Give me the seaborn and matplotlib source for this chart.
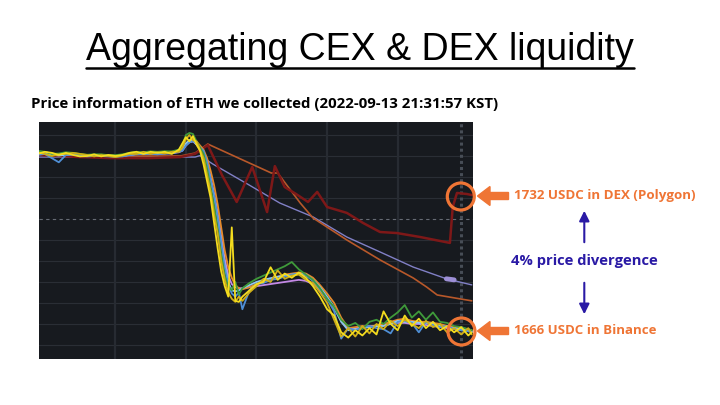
import matplotlib
matplotlib.use("Agg")
import matplotlib.pyplot as plt
import seaborn as sns
import pandas as pd
from matplotlib.patches import Circle, FancyArrow, FancyArrowPatch
from matplotlib.lines import Line2D

sns.set_theme(style="dark")
plt.rcParams['font.family'] = ['Open Sans', 'DejaVu Sans']

# ---------------- texts ----------------
title = "Aggregating CEX & DEX liquidity"
subtitle = "Price information of ETH we collected (2022-09-13 21:31:57 KST)"
dex_label = "1732 USDC in DEX (Polygon)"
cex_label = "1666 USDC in Binance"
div_label = "4% price divergence"

# ---------------- data (time in minutes, price in USDC) ----------------
cex_t = [-1, 0, 1, 2, 3, 4, 5, 6, 7, 8, 9, 10, 11, 12, 13, 14, 15, 16, 17, 18, 19,
         19.5, 20, 20.5, 21, 21.5, 22, 22.5, 23, 23.5, 24, 24.5, 25, 25.5, 26, 26.5, 27, 27.5, 28,
         29, 30, 31, 32, 33, 34, 35, 36, 37, 38, 39, 40, 41, 42, 43, 44, 45, 46, 47, 48, 49, 50,
         51, 52, 53, 54, 55, 56, 57, 58, 59, 60, 60.5]

cex_yellow = [1751.0, 1752.0, 1751.5, 1750.5, 1751.5, 1750.5, 1749.8, 1750.0, 1750.8, 1749.8, 1750.5,
              1750.0, 1750.5, 1751.5, 1752.0, 1751.0, 1752.0, 1751.5, 1752.0, 1751.0, 1753.0,
              1756.0, 1759.0, 1757.0, 1759.5, 1755.5, 1752.5, 1746.0, 1738.0, 1730.0, 1718.0, 1706.0,
              1695.0, 1688.0, 1683.0, 1716.0, 1681.0, 1680.5, 1683.0,
              1686.0, 1689.0, 1690.0, 1697.0, 1691.0, 1694.0, 1692.0, 1694.5, 1692.0, 1688.0, 1683.0,
              1677.0, 1674.0, 1666.0, 1663.5, 1667.0, 1664.5, 1668.0, 1665.0, 1676.0, 1670.0, 1667.0,
              1674.0, 1669.0, 1672.5, 1668.0, 1671.0, 1667.0, 1669.0, 1666.0, 1668.5, 1664.5, 1666.0]

cex_gold = [1751.8, 1751.0, 1750.0, 1750.8, 1751.0, 1751.5, 1751.0, 1750.5, 1749.8, 1750.5, 1750.0,
            1749.5, 1750.2, 1751.0, 1751.0, 1752.0, 1751.0, 1751.8, 1751.2, 1752.0, 1752.0,
            1754.0, 1758.0, 1760.0, 1757.5, 1757.0, 1753.0, 1749.0, 1741.0, 1733.0, 1722.0, 1713.0,
            1700.0, 1691.0, 1685.0, 1682.0, 1680.5, 1683.0, 1681.0,
            1685.0, 1688.0, 1691.5, 1690.0, 1695.5, 1691.5, 1693.0, 1693.5, 1691.0, 1689.5, 1685.0,
            1680.0, 1672.0, 1664.0, 1668.0, 1664.0, 1669.0, 1665.5, 1670.0, 1667.5, 1671.5, 1669.0,
            1672.0, 1670.0, 1668.0, 1671.5, 1668.5, 1670.0, 1666.0, 1668.0, 1665.0, 1668.0, 1665.0]

cex_green = [1752.5, 1752.0, 1751.0, 1751.2, 1751.8, 1751.5, 1751.0, 1750.6, 1750.8, 1750.8, 1750.4,
             1750.4, 1750.8, 1751.5, 1752.0, 1751.8, 1752.2, 1752.0, 1752.3, 1752.2, 1753.0,
             1755.0, 1760.0, 1761.0, 1760.5, 1757.0, 1754.0, 1751.0, 1744.0, 1735.0, 1726.0, 1715.0,
             1703.0, 1693.0, 1688.0, 1686.0, 1690.0, 1684.0, 1687.0,
             1689.5, 1691.5, 1693.0, 1694.5, 1696.0, 1697.5, 1699.5, 1696.0, 1693.5, 1691.0, 1687.0,
             1682.0, 1678.0, 1672.0, 1669.0, 1670.5, 1667.5, 1671.0, 1672.0, 1670.0, 1673.0, 1675.5,
             1679.0, 1673.0, 1676.0, 1672.0, 1675.5, 1671.0, 1670.5, 1669.0, 1668.5, 1667.5, 1667.0]

cex_blue = [1750.5, 1751.0, 1749.0, 1747.0, 1750.5, 1750.8, 1750.0, 1749.8, 1750.0, 1750.0, 1749.8,
            1749.6, 1749.8, 1750.4, 1750.8, 1751.0, 1751.0, 1750.8, 1751.2, 1751.3, 1752.0,
            1752.5, 1755.0, 1756.5, 1757.0, 1756.0, 1754.0, 1752.5, 1747.0, 1739.0, 1731.0, 1721.0,
            1709.0, 1697.0, 1689.0, 1684.5, 1683.0, 1685.0, 1677.0,
            1686.0, 1689.0, 1689.5, 1691.0, 1691.5, 1692.5, 1693.5, 1694.0, 1693.0, 1690.5, 1686.5,
            1682.0, 1676.0, 1663.0, 1668.0, 1667.0, 1668.5, 1669.0, 1668.0, 1667.5, 1665.5, 1671.0,
            1671.5, 1670.5, 1666.0, 1671.0, 1669.5, 1668.5, 1669.0, 1667.5, 1667.0, 1666.5, 1666.0]

cex_lightblue = [1751.0, 1751.2, 1750.6, 1750.2, 1750.6, 1750.9, 1750.4, 1750.1, 1750.2, 1750.2, 1750.0,
                 1749.9, 1750.0, 1750.6, 1751.0, 1751.1, 1751.1, 1751.1, 1751.3, 1751.4, 1752.2,
                 1753.0, 1756.0, 1757.5, 1757.5, 1755.5, 1753.5, 1751.5, 1746.0, 1738.5, 1730.5, 1720.5,
                 1709.0, 1698.0, 1690.0, 1686.0, 1685.5, 1686.0, 1687.0,
                 1688.5, 1690.0, 1691.0, 1691.8, 1692.5, 1693.0, 1693.5, 1694.0, 1693.5, 1691.0, 1687.5,
                 1683.0, 1678.0, 1671.0, 1667.0, 1667.5, 1668.0, 1668.5, 1669.0, 1669.0, 1670.0, 1671.5,
                 1671.0, 1671.0, 1670.5, 1670.5, 1670.0, 1669.0, 1668.5, 1668.0, 1667.5, 1667.0, 1666.5]

cex_orange = [1751.6, 1751.8, 1751.2, 1750.6, 1751.0, 1751.4, 1750.8, 1750.4, 1750.5, 1750.6, 1750.4,
              1750.3, 1750.4, 1751.0, 1751.5, 1751.6, 1751.6, 1751.6, 1751.8, 1751.9, 1752.5,
              1753.0, 1755.5, 1757.5, 1758.0, 1757.0, 1755.0, 1753.0, 1749.0, 1743.0, 1736.0, 1727.0,
              1716.0, 1705.0, 1697.0, 1692.0, 1688.5, 1687.0, 1686.5,
              1687.5, 1689.0, 1690.5, 1691.5, 1692.5, 1693.5, 1694.0, 1694.5, 1694.0, 1692.0, 1688.5,
              1684.5, 1680.0, 1673.0, 1668.0, 1668.5, 1669.0, 1668.5, 1669.5, 1670.0, 1671.0, 1672.0,
              1672.5, 1671.5, 1671.0, 1671.0, 1670.5, 1670.0, 1669.0, 1668.5, 1668.0, 1667.5, 1667.0]

cex_purple = [1751.0, 1751.0, 1750.8, 1750.5, 1750.6, 1750.8, 1750.5, 1750.2, 1750.2, 1750.3, 1750.1,
              1750.0, 1750.1, 1750.5, 1751.0, 1751.0, 1751.1, 1751.1, 1751.2, 1751.3, 1751.8,
              1752.5, 1755.0, 1756.5, 1757.0, 1755.5, 1753.5, 1751.5, 1746.5, 1740.0, 1732.0, 1723.0,
              1712.0, 1701.0, 1693.0, 1689.0, 1687.5, 1687.0, 1687.0,
              1687.5, 1688.0, 1688.5, 1689.0, 1689.5, 1690.0, 1690.5, 1691.0, 1690.5, 1689.0, 1686.0,
              1682.0, 1677.5, 1671.5, 1668.0, 1668.0, 1668.5, 1669.0, 1669.0, 1669.5, 1670.0, 1670.5,
              1670.5, 1670.0, 1670.0, 1669.5, 1669.0, 1668.5, 1668.0, 1667.5, 1667.0, 1666.8, 1666.5]

dex_polygon_t = [-1, 5.0, 9.25, 14.9, 19.2, 21.3, 23.1, 25.1, 27.2, 29.4, 31.5, 32.6, 34.0, 35.6,
                 37.3, 38.6, 40.0, 42.8, 45.1, 47.5, 49.9, 53.2, 57.4, 57.8, 58.4, 59.8, 60.5]
dex_polygon_price = [1750.5, 1749.5, 1749.0, 1749.0, 1749.5, 1751.0, 1755.2, 1741.0, 1728.1, 1744.8,
                     1723.3, 1745.2, 1735.2, 1731.9, 1728.1, 1732.9, 1725.7, 1722.9, 1718.1, 1713.8,
                     1713.3, 1711.4, 1708.6, 1725.7, 1732.4, 1731.9, 1731.4]

dex_b_t = [-1, 9.25, 19.2, 21.3, 23.1, 32.1, 33.0, 36.2, 38.0, 42.8, 47.5, 52.2, 54.1, 55.6, 60.5]
dex_b_price = [1751.4, 1750.0, 1750.0, 1751.4, 1755.7, 1741.9, 1741.9, 1727.6, 1720.5, 1710.0,
               1700.5, 1691.9, 1687.6, 1683.8, 1681.0]

dex_c_t = [-1, 21.3, 22.0, 23.8, 28.7, 33.3, 38.0, 42.8, 47.5, 52.2, 57.0, 60.5]
dex_c_price = [1749.5, 1749.5, 1750.2, 1746.2, 1736.7, 1727.6, 1721.0, 1711.4, 1704.3, 1697.1,
               1691.4, 1688.6]
dex_c_mark_t = [56.9, 58.0]
dex_c_mark_price = [1691.5, 1691.0]

reference_price = 1720
crosshair_t = 59.0
h_grid = [1660, 1670, 1680, 1690, 1700, 1710, 1730, 1740, 1750, 1760]
v_grid = [10, 20, 30, 40, 50]

# ---------------- colours ----------------
ORANGE = "#ef7535"
NAVY = "#2a1aa5"
cex_palette = {
    "purple": "#c489e6",
    "orange": "#e58a2c",
    "lightblue": "#8ec8ee",
    "blue": "#4f8fd6",
    "green": "#3f9a3a",
    "gold": "#cfae17",
    "yellow": "#f4dc1e",
}
cex_values = {
    "purple": cex_purple,
    "orange": cex_orange,
    "lightblue": cex_lightblue,
    "blue": cex_blue,
    "green": cex_green,
    "gold": cex_gold,
    "yellow": cex_yellow,
}

W, H = 720, 405
fig = plt.figure(figsize=(W / 100, H / 100), dpi=100, facecolor="white")
ax = fig.add_axes([38.5 / W, 1 - 359 / H, 434 / W, 237 / H])
ax.set_facecolor("#171a1f")

for g in h_grid:
    ax.axhline(g, color="#2a2e35", lw=0.8, zorder=0)
for g in v_grid:
    ax.axvline(g, color="#272b32", lw=1.6, zorder=0)
ax.axhline(reference_price, color="#666b74", lw=0.8, ls=(0, (3, 3)), zorder=0.5)
ax.axvline(crosshair_t, color="#474d56", lw=2.2, ls=(0, (1, 1)), zorder=0.5)

# DEX lines
sns.lineplot(x=dex_c_t, y=dex_c_price, color="#8180c6", lw=1.0, ax=ax, estimator=None, sort=False)
sns.lineplot(x=dex_c_mark_t, y=dex_c_mark_price, color="#9d8fd6", lw=3.5, ax=ax, estimator=None, sort=False)
sns.lineplot(x=dex_b_t, y=dex_b_price, color="#b8582a", lw=1.2, ax=ax, estimator=None, sort=False)
sns.lineplot(x=dex_polygon_t, y=dex_polygon_price, color="#7e1818", lw=1.8, ax=ax, estimator=None, sort=False)

# CEX lines
frames = [pd.DataFrame({"t": cex_t, "price": v, "series": k}) for k, v in cex_values.items()]
cex_df = pd.concat(frames, ignore_index=True)
sns.lineplot(data=cex_df, x="t", y="price", hue="series", palette=cex_palette,
             hue_order=list(cex_values.keys()), estimator=None, sort=False,
             legend=False, lw=1.3, ax=ax)

ax.set_xlim(-0.88, 60.6)
ax.set_ylim(1653.3, 1766.2)
ax.set_xticks([])
ax.set_yticks([])
ax.set_xlabel("")
ax.set_ylabel("")
for s in ax.spines.values():
    s.set_visible(False)

# ---------------- texts ----------------
def fx(x):
    return x / W

def fy(y):
    return 1 - y / H

t_title = fig.text(fx(360), fy(60), title, ha="center", va="baseline", fontsize=27,
                   family=["Liberation Sans", "DejaVu Sans"], color="black")
t_sub = fig.text(fx(31), fy(104), subtitle, ha="left", va="center", fontsize=9,
                 fontweight="bold", color="black")
t_dex = fig.text(fx(514), fy(196), dex_label, ha="left", va="center", fontsize=8,
                 fontweight="bold", color=ORANGE)
t_cex = fig.text(fx(514), fy(331), cex_label, ha="left", va="center", fontsize=8,
                 fontweight="bold", color=ORANGE)
t_div = fig.text(fx(584), fy(261.5), div_label, ha="center", va="center", fontsize=8,
                 fontweight="bold", color=NAVY)

fig.canvas.draw()
r = fig.canvas.get_renderer()
for txt, target in [(t_title, 548), (t_sub, 466), (t_dex, 182), (t_cex, 143), (t_div, 148)]:
    w = txt.get_window_extent(r).width
    txt.set_fontsize(txt.get_fontsize() * target / w)
fig.canvas.draw()
bb = t_title.get_window_extent(fig.canvas.get_renderer())
fig.add_artist(Line2D([bb.x0 / W, bb.x1 / W], [fy(67.5), fy(67.5)], color="black", lw=1.8,
                      transform=fig.transFigure))

# ---------------- annotations ----------------
tr = fig.dpi_scale_trans
for cx, cy in [(460.8, 196.5), (461.5, 331.5)]:
    fig.add_artist(Circle((cx / 100, (H - cy) / 100), 0.135, transform=tr, fill=False,
                          ec=ORANGE, lw=2.3))
for ay in [196, 331]:
    fig.add_artist(FancyArrow(5.085, (H - ay) / 100, -0.31, 0, width=0.07, head_width=0.19,
                              head_length=0.125, length_includes_head=True, color=ORANGE,
                              transform=tr))
fig.add_artist(FancyArrowPatch((5.843, (H - 245) / 100), (5.843, (H - 208) / 100),
                               arrowstyle="-|>,head_length=0.5,head_width=0.25", mutation_scale=12,
                               lw=1.5, color=NAVY, transform=tr))
fig.add_artist(FancyArrowPatch((5.843, (H - 280) / 100), (5.843, (H - 317) / 100),
                               arrowstyle="-|>,head_length=0.5,head_width=0.25", mutation_scale=12,
                               lw=1.5, color=NAVY, transform=tr))

fig.savefig("out.png", dpi=100, facecolor="white")
